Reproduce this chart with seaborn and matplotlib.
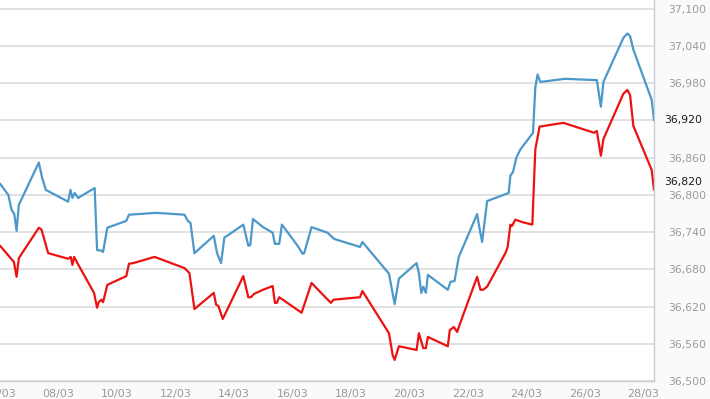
import pandas as pd
import numpy as np
import matplotlib
matplotlib.use("Agg")
import matplotlib.pyplot as plt
import seaborn as sns

# day of March (fractional) and price
blue_day = [6.0, 6.283, 6.396, 6.488, 6.567, 6.645, 7.328, 7.444, 7.567, 8.331, 8.410, 8.478,
            8.556, 8.672, 9.239, 9.321, 9.468, 9.526, 9.672, 10.321, 10.413, 11.345, 12.311,
            12.427, 12.516, 12.652, 13.314, 13.427, 13.563, 13.676, 14.324, 14.495, 14.563,
            14.655, 14.997, 15.328, 15.406, 15.553, 15.645, 16.181, 16.352, 16.406, 16.659,
            17.205, 17.430, 18.317, 18.399, 19.307, 19.502, 19.648, 20.253, 20.331, 20.413,
            20.481, 20.570, 20.638, 21.321, 21.413, 21.549, 21.696, 22.324, 22.413, 22.495,
            22.666, 23.403, 23.461, 23.553, 23.666, 23.802, 24.236, 24.314, 24.393, 24.485,
            25.338, 26.328, 26.420, 26.557, 26.645, 27.328, 27.464, 27.556, 27.669, 28.297,
            28.375]
blue_val = [36818, 36800, 36776, 36769, 36742, 36784, 36852, 36827, 36808, 36789, 36808, 36795,
            36803, 36795, 36811, 36711, 36710, 36708, 36747, 36758, 36768, 36771, 36768,
            36758, 36755, 36706, 36734, 36706, 36690, 36731, 36752, 36718, 36719,
            36761, 36748, 36739, 36721, 36721, 36752, 36718, 36705, 36706, 36748,
            36739, 36729, 36716, 36724, 36673, 36624, 36665, 36690, 36674, 36642,
            36652, 36642, 36671, 36647, 36660, 36661, 36700, 36769, 36744, 36724,
            36790, 36803, 36831, 36837, 36860, 36873, 36900, 36973, 36994, 36982,
            36987, 36985, 36985, 36942, 36982, 37053, 37060, 37056, 37034, 36953,
            36920]

red_day = [6.0, 6.474, 6.567, 6.645, 7.328, 7.420, 7.648, 8.331, 8.420, 8.478, 8.536, 8.648,
           9.218, 9.321, 9.375, 9.468, 9.526, 9.672, 10.321, 10.413, 10.560, 11.287, 12.311,
           12.481, 12.652, 13.314, 13.393, 13.471, 13.621, 14.324, 14.495, 14.587, 14.679,
           14.997, 15.328, 15.406, 15.474, 15.553, 16.317, 16.659, 17.317, 17.410, 18.317,
           18.399, 19.307, 19.433, 19.502, 19.648, 20.253, 20.331, 20.481, 20.570, 20.638,
           21.321, 21.389, 21.526, 21.642, 21.696, 22.324, 22.437, 22.529, 22.666, 23.290,
           23.369, 23.461, 23.519, 23.631, 23.870, 24.212, 24.314, 24.461, 25.280, 26.328,
           26.420, 26.557, 26.645, 27.328, 27.464, 27.556, 27.669, 28.297, 28.375]
red_val = [36718, 36692, 36668, 36698, 36747, 36744, 36706, 36697, 36700, 36687, 36700, 36690,
           36642, 36618, 36627, 36631, 36627, 36655, 36669, 36689, 36690, 36700, 36682,
           36674, 36616, 36642, 36623, 36621, 36600, 36669, 36635, 36635, 36640,
           36647, 36653, 36626, 36626, 36635, 36610, 36658, 36626, 36631, 36635,
           36645, 36577, 36542, 36534, 36556, 36550, 36577, 36553, 36553, 36571,
           36556, 36582, 36587, 36579, 36587, 36668, 36647, 36647, 36652, 36706,
           36716, 36752, 36750, 36760, 36756, 36752, 36873, 36910, 36916, 36900,
           36903, 36863, 36890, 36963, 36969, 36961, 36911, 36840, 36808]

x_ticks = [6, 8, 10, 12, 14, 16, 18, 20, 22, 24, 26, 28]
x_tick_labels = ["06/03", "08/03", "10/03", "12/03", "14/03", "16/03",
                 "18/03", "20/03", "22/03", "24/03", "26/03", "28/03"]
y_ticks = [36500, 36560, 36620, 36680, 36740, 36800, 36860, 36920, 36980, 37040, 37100]
last_values = [36920, 36820]
last_labels = ["36,920", "36,820"]

df = pd.concat([
    pd.DataFrame({"day": blue_day, "price": blue_val, "series": "blue"}),
    pd.DataFrame({"day": red_day, "price": red_val, "series": "red"}),
])

sns.set_style("white")
plt.rcParams['font.family'] = ['DejaVu Sans']

fig = plt.figure(figsize=(7.1, 3.99), dpi=100, facecolor="#fafafa")
ax = fig.add_axes([0, 18 / 399, 654 / 710, 381 / 399])
ax.set_facecolor("white")

sns.lineplot(data=df, x="day", y="price", hue="series", sort=False, estimator=None,
             palette={"blue": "#4b98c9", "red": "#ec1212"}, linewidth=1.6,
             legend=False, ax=ax)

ax.set_xlim(6.055, 28.375)
ax.set_ylim(36500, 37114)
ax.set_xlabel("")
ax.set_ylabel("")

ax.set_xticks(x_ticks)
ax.set_xticklabels(x_tick_labels)
ax.yaxis.tick_right()
ax.set_yticks(y_ticks)
ax.set_yticklabels([f"{v:,}" for v in y_ticks])
ax.tick_params(axis="x", length=4, color="#c8ccd4", labelsize=8, labelcolor="#999999", pad=2)
ax.tick_params(axis="y", length=0, labelsize=7.8, labelcolor="#9a9a9a", pad=10)

ax.grid(axis="y", color="#dcdcdc", linewidth=1.2)
ax.grid(axis="x", visible=False)
ax.set_axisbelow(True)

for side in ["left", "top"]:
    ax.spines[side].set_visible(False)
for side in ["bottom", "right"]:
    ax.spines[side].set_color("#c8ccd4")
    ax.spines[side].set_linewidth(1.0)

# hide the grid tick label that the current-price label sits on
for lbl, v in zip(ax.get_yticklabels(), y_ticks):
    if v in last_values:
        lbl.set_visible(False)

for v, txt in zip(last_values, last_labels):
    ax.text(1 + 10 / 654, v, txt, transform=ax.get_yaxis_transform(),
            ha="left", va="center", fontsize=7.8, color="#1a1a1a", clip_on=False)

fig.savefig("out.png", dpi=100, facecolor=fig.get_facecolor())
